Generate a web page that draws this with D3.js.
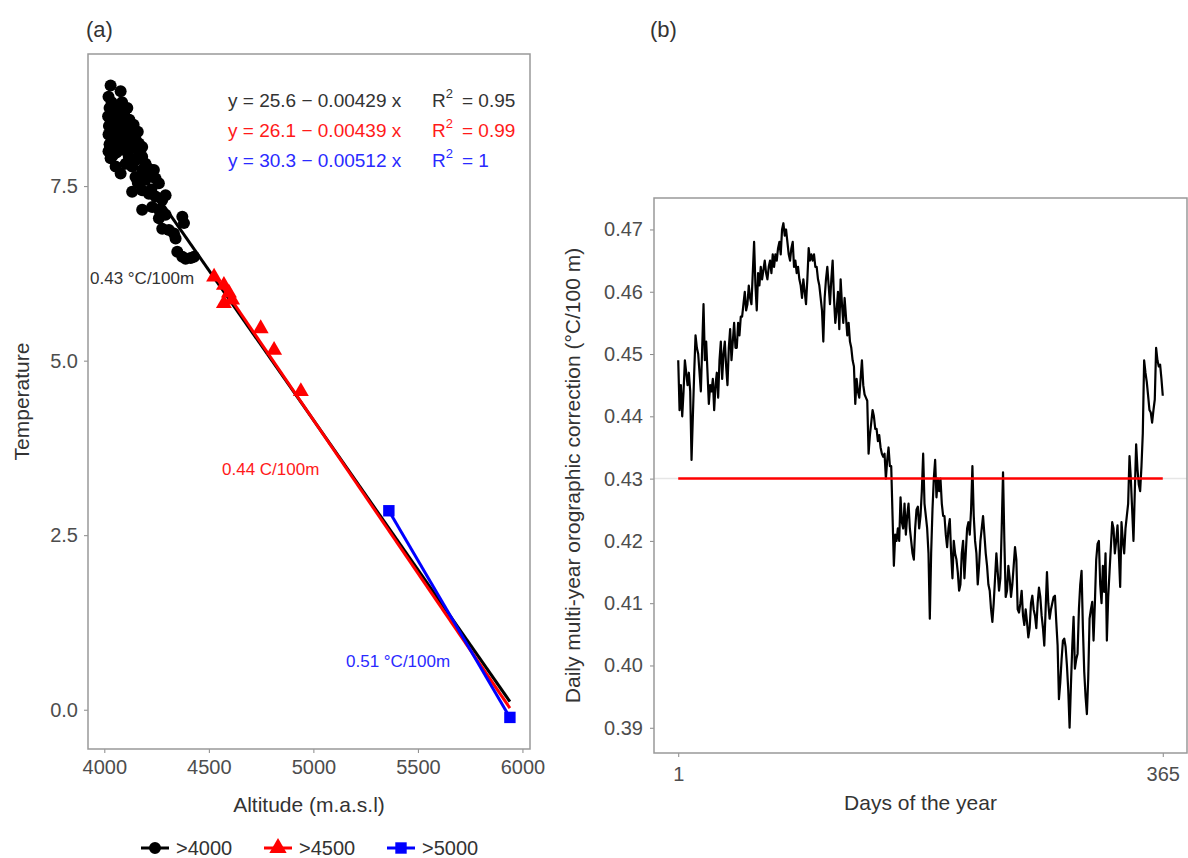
<!DOCTYPE html>
<html>
<head>
<meta charset="utf-8">
<script src="https://cdn.jsdelivr.net/npm/d3@7/dist/d3.min.js"></script>
<style>
  body { margin: 0; background: #fff; }
  text { font-family: "Liberation Sans", Arial, sans-serif; }
  .tick line { stroke: #888; }
  .tick text { fill: #4d4d4d; font-size: 20px; }
</style>
</head>
<body>
<div id="d3-container"></div>
<script>
// CONST and GLOBALS
const width = 1188,
  height = 858;

// (a) stations above 4000 m : altitude (m) and mean temperature
const alt4000 = [4030, 4078, 4020, 4035, 4025, 4040, 4018, 4030, 4022, 4045, 4020, 4035, 4025, 4050, 4020, 4040, 4030,
  4060, 4055, 4065, 4060, 4070, 4058, 4078, 4095, 4102, 4085, 4117, 4125, 4110, 4149, 4102, 4165, 4181, 4070, 4090,
  4130, 4117, 4149, 4181, 4197, 4213, 4237, 4181, 4133, 4102, 4054, 4078, 4149, 4197, 4245, 4261, 4133, 4181, 4213,
  4245, 4293, 4277, 4181, 4229, 4261, 4293, 4261, 4373, 4381, 4277, 4309, 4333, 4341, 4349, 4373, 4389, 4413, 4429,
  4120, 4140, 4160, 4095, 4110, 4085, 4165, 4205, 4225, 4160];
const temp4000 = [8.94, 8.86, 8.78, 8.70, 8.62, 8.55, 8.50, 8.44, 8.36, 8.30, 8.24, 8.18, 8.10, 8.05, 8.00, 7.94, 7.90,
  8.62, 8.48, 8.38, 8.22, 8.12, 7.98, 8.45, 8.40, 8.35, 8.30, 8.30, 8.23, 8.18, 8.18, 8.16, 8.11, 8.06, 8.04, 8.02,
  8.05, 7.92, 7.87, 7.92, 7.82, 7.75, 7.73, 7.73, 7.78, 7.82, 7.78, 7.68, 7.63, 7.59, 7.61, 7.54, 7.42, 7.44, 7.39,
  7.35, 7.37, 7.30, 7.16, 7.20, 7.16, 7.09, 7.04, 7.06, 6.97, 6.89, 6.87, 6.82, 6.75, 6.56, 6.49, 6.46, 6.47, 6.49,
  8.45, 8.38, 8.28, 8.55, 8.62, 8.70, 7.95, 7.65, 7.45, 7.55];

// stations above 4500 m
const alt4500 = [4525, 4572, 4596, 4572, 4611, 4748, 4812, 4940];
const temp4500 = [6.20, 6.08, 5.97, 5.82, 5.87, 5.46, 5.15, 4.56];

// stations above 5000 m
const alt5000 = [5361, 5940];
const temp5000 = [2.85, -0.11];

// linear fits per group
const groupNames = ['>4000', '>4500', '>5000'];
const fitIntercept = [25.6, 26.1, 30.3];
const fitSlope = [-0.00429, -0.00439, -0.00512];
const fitR2 = ['0.95', '0.99', '1'];
const lapseText = ['0.43 °C/100m', '0.44 C/100m', '0.51 °C/100m'];

const altTicks = [4000, 4500, 5000, 5500, 6000];
const tempTicks = [0, 2.5, 5, 7.5];

// (b) daily multi-year orographic correction (°C/100 m), day 1..365
const lapseDaily = [
  0.449, 0.441, 0.445, 0.440, 0.444, 0.449, 0.447, 0.445, 0.447, 0.444,
  0.433, 0.440, 0.447, 0.453, 0.451, 0.450, 0.447, 0.444, 0.451, 0.458,
  0.449, 0.452, 0.447, 0.442, 0.445, 0.444, 0.446, 0.441, 0.445, 0.447,
  0.443, 0.449, 0.452, 0.446, 0.450, 0.452, 0.448, 0.445, 0.451, 0.454,
  0.449, 0.452, 0.455, 0.451, 0.451, 0.455, 0.453, 0.456, 0.456, 0.458,
  0.460, 0.457, 0.458, 0.461, 0.459, 0.458, 0.463, 0.468, 0.461, 0.457,
  0.463, 0.461, 0.464, 0.462, 0.4635, 0.465, 0.463, 0.462, 0.464, 0.465,
  0.463, 0.466, 0.464, 0.466, 0.465, 0.467, 0.468, 0.466, 0.470, 0.471,
  0.469, 0.470, 0.468, 0.466, 0.465, 0.467, 0.468, 0.464, 0.465, 0.463,
  0.464, 0.462, 0.461, 0.459, 0.462, 0.460, 0.458, 0.462, 0.467, 0.465,
  0.466, 0.465, 0.466, 0.464, 0.464, 0.462, 0.461, 0.459, 0.457, 0.452,
  0.459, 0.462, 0.464, 0.461, 0.458, 0.462, 0.465, 0.459, 0.455, 0.457,
  0.460, 0.454, 0.462, 0.458, 0.455, 0.459, 0.456, 0.453, 0.455, 0.452,
  0.451, 0.449, 0.448, 0.442, 0.446, 0.444, 0.443, 0.446, 0.449, 0.445,
  0.4435, 0.443, 0.4425, 0.434, 0.437, 0.439, 0.441, 0.440, 0.438, 0.438,
  0.436, 0.437, 0.435, 0.434, 0.4335, 0.434, 0.430, 0.433, 0.435, 0.432,
  0.432, 0.424, 0.416, 0.421, 0.420, 0.422, 0.420, 0.427, 0.423, 0.422,
  0.426, 0.421, 0.424, 0.426, 0.422, 0.420, 0.418, 0.417, 0.422, 0.425,
  0.4255, 0.422, 0.424, 0.428, 0.434, 0.426, 0.424, 0.422, 0.418, 0.4075,
  0.418, 0.425, 0.430, 0.433, 0.427, 0.430, 0.428, 0.430, 0.426, 0.424,
  0.424, 0.421, 0.419, 0.422, 0.4235, 0.418, 0.414, 0.420, 0.418, 0.417,
  0.415, 0.412, 0.413, 0.418, 0.420, 0.414, 0.418, 0.422, 0.423, 0.421,
  0.425, 0.432, 0.424, 0.420, 0.418, 0.413, 0.416, 0.420, 0.422, 0.424,
  0.421, 0.418, 0.416, 0.413, 0.412, 0.409, 0.407, 0.410, 0.414, 0.418,
  0.415, 0.412, 0.414, 0.422, 0.431, 0.420, 0.411, 0.412, 0.416, 0.414,
  0.411, 0.413, 0.416, 0.419, 0.417, 0.409, 0.4085, 0.410, 0.412, 0.408,
  0.4065, 0.409, 0.407, 0.4045, 0.406, 0.410, 0.4112, 0.409, 0.408, 0.406,
  0.410, 0.4125, 0.411, 0.408, 0.406, 0.4032, 0.409, 0.415, 0.410, 0.4075,
  0.409, 0.410, 0.411, 0.4112, 0.407, 0.4032, 0.3946, 0.3973, 0.401, 0.404,
  0.4043, 0.403, 0.400, 0.396, 0.390, 0.3968, 0.403, 0.4078, 0.3995, 0.401,
  0.4019, 0.409, 0.413, 0.4152, 0.406, 0.399, 0.395, 0.3922, 0.398, 0.4075,
  0.409, 0.4102, 0.404, 0.410, 0.417, 0.4195, 0.420, 0.413, 0.410, 0.416,
  0.4118, 0.418, 0.404, 0.411, 0.415, 0.419, 0.423, 0.422, 0.418, 0.420,
  0.4225, 0.418, 0.4126, 0.423, 0.420, 0.418, 0.422, 0.424, 0.426, 0.4336,
  0.430, 0.425, 0.420, 0.428, 0.4355, 0.4315, 0.429, 0.428, 0.432, 0.4373,
  0.449, 0.447, 0.4455, 0.4433, 0.441, 0.4406, 0.439, 0.441, 0.4427, 0.451,
  0.449, 0.448, 0.4483, 0.446, 0.4433
];
const days = d3.range(1, lapseDaily.length + 1);
const meanLapse = 0.43;
const dayTicks = [1, 365];
const lapseTicks = [0.39, 0.40, 0.41, 0.42, 0.43, 0.44, 0.45, 0.46, 0.47];

const groupColors = ['#000000', '#ff0000', '#0000ff'];

// ggplot-like 5% expansion
function expand(ext) {
  const pad = (ext[1] - ext[0]) * 0.05;
  return [ext[0] - pad, ext[1] + pad];
}

let svg = d3
  .select('#d3-container')
  .append('svg')
  .attr('width', width)
  .attr('height', height);

// ---------------- PANEL (a) ----------------
const boxA = { left: 88, right: 530, top: 54, bottom: 749 };
const allAlt = alt4000.concat(alt4500, alt5000);
const allTemp = temp4000.concat(temp4500, temp5000);

const xA = d3.scaleLinear().domain(expand(d3.extent(allAlt))).range([boxA.left, boxA.right]);
const yA = d3.scaleLinear().domain(expand(d3.extent(allTemp))).range([boxA.bottom, boxA.top]);

svg.append('g')
  .attr('transform', `translate(0,${boxA.bottom})`)
  .call(d3.axisBottom(xA).tickValues(altTicks).tickFormat(d3.format('d')).tickSize(4).tickPadding(7))
  .call(g => g.select('.domain').remove());

svg.append('g')
  .attr('transform', `translate(${boxA.left},0)`)
  .call(d3.axisLeft(yA).tickValues(tempTicks).tickFormat(d3.format('.1f')).tickSize(4).tickPadding(6))
  .call(g => g.select('.domain').remove());

svg.append('rect')
  .attr('x', boxA.left).attr('y', boxA.top)
  .attr('width', boxA.right - boxA.left).attr('height', boxA.bottom - boxA.top)
  .attr('fill', 'none').attr('stroke', '#999').attr('stroke-width', 1.5);

// fitted lines: each group spans from its own lowest station to the highest one
const fitStart = [d3.min(allAlt), d3.min(alt4500.concat(alt5000)), d3.min(alt5000)];
const fitEnd = d3.max(allAlt);
groupNames.forEach((g, i) => {
  svg.append('line')
    .attr('x1', xA(fitStart[i]))
    .attr('y1', yA(fitIntercept[i] + fitSlope[i] * fitStart[i]))
    .attr('x2', xA(fitEnd))
    .attr('y2', yA(fitIntercept[i] + fitSlope[i] * fitEnd))
    .attr('stroke', groupColors[i])
    .attr('stroke-width', 3);
});

svg.selectAll('.dot')
  .data(d3.zip(alt4000, temp4000))
  .join('circle')
  .attr('class', 'dot')
  .attr('cx', d => xA(d[0]))
  .attr('cy', d => yA(d[1]))
  .attr('r', 6)
  .attr('fill', '#000');

svg.selectAll('.tri')
  .data(d3.zip(alt4500, temp4500))
  .join('path')
  .attr('class', 'tri')
  .attr('d', d3.symbol(d3.symbolTriangle, 110))
  .attr('transform', d => `translate(${xA(d[0])},${yA(d[1])})`)
  .attr('fill', '#ff0000');

svg.selectAll('.sq')
  .data(d3.zip(alt5000, temp5000))
  .join('path')
  .attr('class', 'sq')
  .attr('d', d3.symbol(d3.symbolSquare, 130))
  .attr('transform', d => `translate(${xA(d[0])},${yA(d[1])})`)
  .attr('fill', '#0000ff');

// equations
const eqColors = ['#333333', '#ff1a1a', '#2a2aff'];
groupNames.forEach((g, i) => {
  const b = Math.abs(fitSlope[i]).toFixed(5);
  const row = svg.append('text')
    .attr('y', 107 + i * 30)
    .attr('fill', eqColors[i])
    .style('font-size', '19px');
  row.append('tspan').attr('x', 228).text(`y = ${fitIntercept[i].toFixed(1)} \u2212 ${b} x`);
  row.append('tspan').attr('x', 432).text('R');
  row.append('tspan').attr('dy', -9).style('font-size', '13px').text('2');
  row.append('tspan').attr('x', 462).attr('dy', 9).text(`= ${fitR2[i]}`);
});

// lapse rate annotations
const lapsePos = [[90, 284, '#333333'], [222, 475, '#ff1a1a'], [346, 667, '#2a2aff']];
lapseText.forEach((t, i) => {
  svg.append('text')
    .attr('x', lapsePos[i][0])
    .attr('y', lapsePos[i][1])
    .attr('fill', lapsePos[i][2])
    .style('font-size', '17px')
    .text(t);
});

svg.append('text')
  .attr('x', 86).attr('y', 37)
  .style('font-size', '22px').attr('fill', '#333')
  .text('(a)');

svg.append('text')
  .attr('x', (boxA.left + boxA.right) / 2).attr('y', 812)
  .attr('text-anchor', 'middle')
  .style('font-size', '21px').attr('fill', '#333')
  .text('Altitude (m.a.s.l)');

svg.append('text')
  .attr('transform', `translate(29,${(boxA.top + boxA.bottom) / 2}) rotate(-90)`)
  .attr('text-anchor', 'middle')
  .style('font-size', '21px').attr('fill', '#333')
  .text('Temperature');

// legend
const legendX = [141, 264, 387];
const legendSymbols = [d3.symbolCircle, d3.symbolTriangle, d3.symbolSquare];
const legendSizes = [113, 130, 130];
groupNames.forEach((g, i) => {
  const lg = svg.append('g').attr('transform', `translate(${legendX[i]},848)`);
  lg.append('line').attr('x1', 0).attr('x2', 28)
    .attr('stroke', groupColors[i]).attr('stroke-width', 3);
  lg.append('path')
    .attr('d', d3.symbol(legendSymbols[i], legendSizes[i]))
    .attr('transform', 'translate(14,0)')
    .attr('fill', groupColors[i]);
  lg.append('text').attr('x', 35).attr('y', 7)
    .style('font-size', '20px').attr('fill', '#333')
    .text(g);
});

// ---------------- PANEL (b) ----------------
const boxB = { left: 654, right: 1187, top: 198, bottom: 753 };
const xB = d3.scaleLinear().domain(expand(d3.extent(days))).range([boxB.left, boxB.right]);
const yB = d3.scaleLinear().domain(expand(d3.extent(lapseDaily))).range([boxB.bottom, boxB.top]);

svg.append('g')
  .attr('transform', `translate(0,${boxB.bottom})`)
  .call(d3.axisBottom(xB).tickValues(dayTicks).tickSize(4).tickPadding(10))
  .call(g => g.select('.domain').remove());

svg.append('g')
  .attr('transform', `translate(${boxB.left},0)`)
  .call(d3.axisLeft(yB).tickValues(lapseTicks).tickFormat(d3.format('.2f')).tickSize(4).tickPadding(7))
  .call(g => g.select('.domain').remove());

svg.append('line')
  .attr('x1', boxB.left).attr('x2', boxB.right)
  .attr('y1', yB(meanLapse)).attr('y2', yB(meanLapse))
  .attr('stroke', '#e6e6e6').attr('stroke-width', 1.5);

svg.append('rect')
  .attr('x', boxB.left).attr('y', boxB.top)
  .attr('width', boxB.right - boxB.left).attr('height', boxB.bottom - boxB.top)
  .attr('fill', 'none').attr('stroke', '#999').attr('stroke-width', 1.5);

svg.append('path')
  .datum(d3.zip(days, lapseDaily))
  .attr('fill', 'none')
  .attr('stroke', '#000')
  .attr('stroke-width', 2.2)
  .attr('stroke-linejoin', 'round')
  .attr('d', d3.line().x(d => xB(d[0])).y(d => yB(d[1])));

svg.append('line')
  .attr('x1', xB(days[0])).attr('x2', xB(days[days.length - 1]))
  .attr('y1', yB(meanLapse)).attr('y2', yB(meanLapse))
  .attr('stroke', '#ff0000').attr('stroke-width', 2.5);

svg.append('text')
  .attr('x', 650).attr('y', 37)
  .style('font-size', '22px').attr('fill', '#333')
  .text('(b)');

svg.append('text')
  .attr('x', (boxB.left + boxB.right) / 2).attr('y', 810)
  .attr('text-anchor', 'middle')
  .style('font-size', '21px').attr('fill', '#333')
  .text('Days of the year');

svg.append('text')
  .attr('transform', `translate(580,${(boxB.top + boxB.bottom) / 2}) rotate(-90)`)
  .attr('text-anchor', 'middle')
  .style('font-size', '21px').attr('fill', '#333')
  .text('Daily multi-year orographic correction (°C/100 m)');
</script>
</body>
</html>
